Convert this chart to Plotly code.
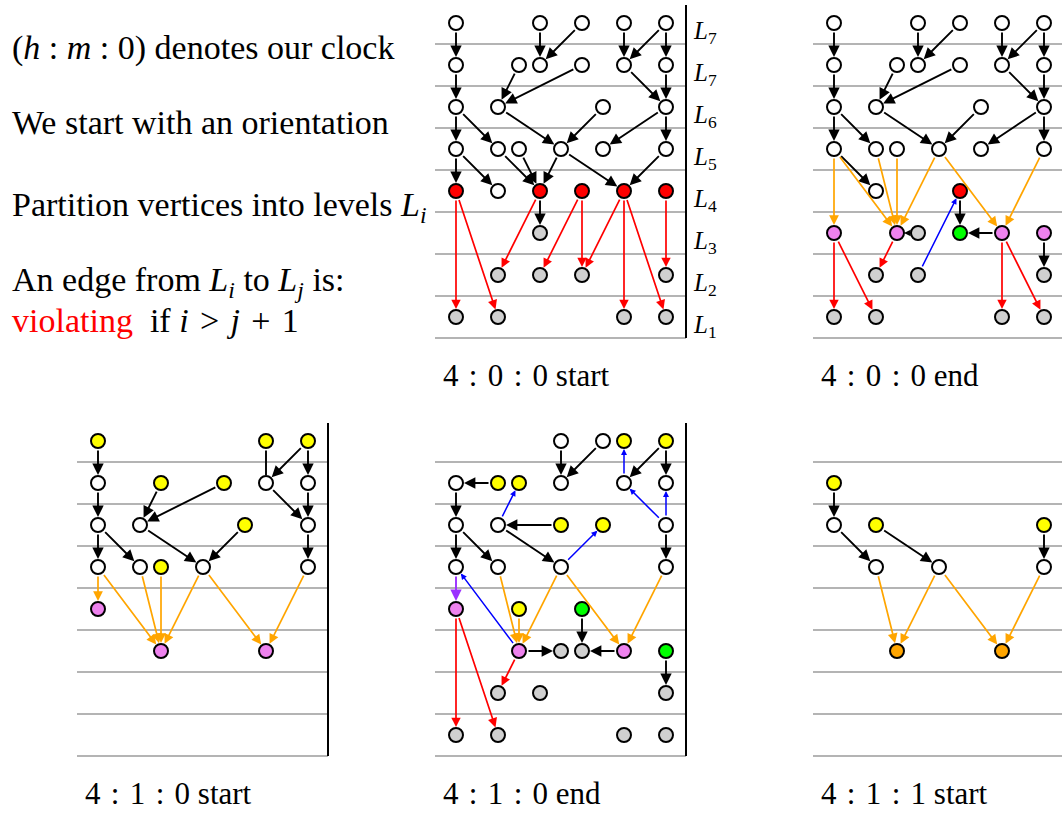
import plotly.graph_objects as go

# ---------------- data ----------------
# nodes: (column in half-steps, row from top, fill code)
# edges: (col_from, row_from, col_to, row_to, colour code)  arrowhead at "to"
LEVEL_LABELS = ["L7", "L7", "L6", "L5", "L4", "L3", "L2", "L1"]
CAPTIONS = ["4 : 0 : 0 start", "4 : 0 : 0 end", "4 : 1 : 0 start", "4 : 1 : 0 end", "4 : 1 : 1 start"]

p1_nodes = [
    (0, 0, "w"), (4, 0, "w"), (6, 0, "w"), (8, 0, "w"), (10, 0, "w"),
    (0, 1, "w"), (3, 1, "w"), (4, 1, "w"), (6, 1, "w"), (8, 1, "w"), (10, 1, "w"),
    (0, 2, "w"), (2, 2, "w"), (7, 2, "w"), (10, 2, "w"),
    (0, 3, "w"), (2, 3, "w"), (3, 3, "w"), (5, 3, "w"), (7, 3, "w"), (10, 3, "w"),
    (0, 4, "r"), (2, 4, "w"), (4, 4, "r"), (6, 4, "r"), (8, 4, "r"), (10, 4, "r"),
    (4, 5, "g"),
    (2, 6, "g"), (4, 6, "g"), (6, 6, "g"), (10, 6, "g"),
    (0, 7, "g"), (2, 7, "g"), (8, 7, "g"), (10, 7, "g"),
]
p1_edges = [
    (0, 0, 0, 1, "k"), (4, 0, 4, 1, "k"), (6, 0, 4, 1, "k"), (8, 0, 8, 1, "k"),
    (10, 0, 8, 1, "k"), (10, 0, 10, 1, "k"),
    (0, 1, 0, 2, "k"), (3, 1, 2, 2, "k"), (6, 1, 2, 2, "k"), (8, 1, 10, 2, "k"), (10, 1, 10, 2, "k"),
    (0, 2, 0, 3, "k"), (0, 2, 2, 3, "k"), (2, 2, 5, 3, "k"), (7, 2, 5, 3, "k"),
    (10, 2, 7, 3, "k"), (10, 2, 10, 3, "k"),
    (0, 3, 0, 4, "k"), (0, 3, 2, 4, "k"), (2, 3, 4, 4, "k"), (3, 3, 4, 4, "k"),
    (5, 3, 4, 4, "k"), (5, 3, 8, 4, "k"), (10, 3, 8, 4, "k"), (4, 4, 4, 5, "k"),
    (0, 4, 0, 7, "r"), (0, 4, 2, 7, "r"), (4, 4, 2, 6, "r"), (6, 4, 4, 6, "r"),
    (6, 4, 6, 6, "r"), (8, 4, 6, 6, "r"), (8, 4, 8, 7, "r"), (8, 4, 10, 7, "r"),
    (10, 4, 10, 6, "r"),
]

p2_nodes = [
    (0, 0, "w"), (4, 0, "w"), (6, 0, "w"), (8, 0, "w"), (10, 0, "w"),
    (0, 1, "w"), (3, 1, "w"), (4, 1, "w"), (6, 1, "w"), (8, 1, "w"), (10, 1, "w"),
    (0, 2, "w"), (2, 2, "w"), (7, 2, "w"), (10, 2, "w"),
    (0, 3, "w"), (2, 3, "w"), (3, 3, "w"), (5, 3, "w"), (7, 3, "w"), (10, 3, "w"),
    (2, 4, "w"), (6, 4, "r"),
    (0, 5, "p"), (3, 5, "p"), (4, 5, "g"), (6, 5, "G"), (8, 5, "p"), (10, 5, "p"),
    (2, 6, "g"), (4, 6, "g"), (10, 6, "g"),
    (0, 7, "g"), (2, 7, "g"), (8, 7, "g"), (10, 7, "g"),
]
p2_edges = [
    (0, 0, 0, 1, "k"), (4, 0, 4, 1, "k"), (6, 0, 4, 1, "k"), (8, 0, 8, 1, "k"),
    (10, 0, 8, 1, "k"), (10, 0, 10, 1, "k"),
    (0, 1, 0, 2, "k"), (3, 1, 2, 2, "k"), (6, 1, 2, 2, "k"), (8, 1, 10, 2, "k"), (10, 1, 10, 2, "k"),
    (0, 2, 0, 3, "k"), (0, 2, 2, 3, "k"), (2, 2, 5, 3, "k"), (7, 2, 5, 3, "k"),
    (10, 2, 7, 3, "k"), (10, 2, 10, 3, "k"),
    (0, 3, 2, 4, "k"),
    (0, 3, 0, 5, "o"), (0, 3, 3, 5, "o"), (2, 3, 3, 5, "o"), (3, 3, 3, 5, "o"),
    (5, 3, 3, 5, "o"), (5, 3, 8, 5, "o"), (10, 3, 8, 5, "o"),
    (4, 5, 3, 5, "s"), (6, 4, 6, 5, "k"), (8, 5, 6, 5, "k"), (10, 5, 10, 6, "k"),
    (4, 6, 6, 4, "b"),
    (0, 5, 0, 7, "r"), (0, 5, 2, 7, "r"), (3, 5, 2, 6, "r"), (8, 5, 8, 7, "r"), (8, 5, 10, 7, "r"),
]

p3_nodes = [
    (0, 0, "y"), (8, 0, "y"), (10, 0, "y"),
    (0, 1, "w"), (3, 1, "y"), (6, 1, "y"), (8, 1, "w"), (10, 1, "w"),
    (0, 2, "w"), (2, 2, "w"), (7, 2, "y"), (10, 2, "w"),
    (0, 3, "w"), (2, 3, "w"), (3, 3, "y"), (5, 3, "w"), (10, 3, "w"),
    (0, 4, "p"),
    (3, 5, "p"), (8, 5, "p"),
]
p3_edges = [
    (0, 0, 0, 1, "k"), (8, 0, 8, 1, "n"), (10, 0, 8, 1, "k"), (10, 0, 10, 1, "k"),
    (0, 1, 0, 2, "k"), (3, 1, 2, 2, "k"), (6, 1, 2, 2, "k"), (8, 1, 10, 2, "k"), (10, 1, 10, 2, "k"),
    (0, 2, 0, 3, "k"), (0, 2, 2, 3, "k"), (2, 2, 5, 3, "k"), (7, 2, 5, 3, "k"), (10, 2, 10, 3, "k"),
    (0, 3, 0, 4, "o"), (0, 3, 3, 5, "o"), (2, 3, 3, 5, "o"), (3, 3, 3, 5, "o"),
    (5, 3, 3, 5, "o"), (5, 3, 8, 5, "o"), (10, 3, 8, 5, "o"),
]

p4_nodes = [
    (5, 0, "w"), (7, 0, "w"), (8, 0, "y"), (10, 0, "y"),
    (0, 1, "w"), (2, 1, "y"), (3, 1, "y"), (5, 1, "w"), (8, 1, "w"), (10, 1, "w"),
    (0, 2, "w"), (2, 2, "w"), (5, 2, "y"), (7, 2, "y"), (10, 2, "w"),
    (0, 3, "w"), (2, 3, "w"), (5, 3, "w"), (10, 3, "w"),
    (0, 4, "p"), (3, 4, "y"), (6, 4, "G"),
    (3, 5, "p"), (5, 5, "g"), (6, 5, "g"), (8, 5, "p"), (10, 5, "G"),
    (2, 6, "g"), (4, 6, "g"), (10, 6, "g"),
    (0, 7, "g"), (2, 7, "g"), (8, 7, "g"), (10, 7, "g"),
]
p4_edges = [
    (5, 0, 5, 1, "k"), (7, 0, 5, 1, "k"), (10, 0, 8, 1, "k"), (10, 0, 10, 1, "k"),
    (2, 1, 0, 1, "k"), (0, 1, 0, 2, "k"), (5, 2, 2, 2, "k"),
    (0, 2, 0, 3, "k"), (0, 2, 2, 3, "k"), (2, 2, 5, 3, "k"), (10, 2, 10, 3, "k"),
    (8, 1, 8, 0, "b"), (10, 2, 8, 1, "b"), (10, 2, 10, 1, "b"), (2, 2, 3, 1, "b"),
    (5, 3, 7, 2, "b"), (3, 5, 0, 3, "b"),
    (0, 3, 0, 4, "v"),
    (2, 3, 3, 5, "o"), (3, 4, 3, 5, "o"), (5, 3, 3, 5, "o"), (5, 3, 8, 5, "o"), (10, 3, 8, 5, "o"),
    (3, 5, 5, 5, "k"), (6, 4, 6, 5, "k"), (8, 5, 6, 5, "k"), (10, 5, 10, 6, "k"),
    (0, 4, 0, 7, "r"), (0, 4, 2, 7, "r"), (3, 5, 2, 6, "r"),
]

p5_nodes = [
    (0, 1, "y"),
    (0, 2, "w"), (2, 2, "y"), (10, 2, "y"),
    (2, 3, "w"), (5, 3, "w"), (10, 3, "w"),
    (3, 5, "o"), (8, 5, "o"),
]
p5_edges = [
    (0, 1, 0, 2, "k"), (0, 2, 2, 3, "k"), (2, 2, 5, 3, "k"), (10, 2, 10, 3, "k"),
    (2, 3, 3, 5, "o"), (5, 3, 3, 5, "o"), (5, 3, 8, 5, "o"), (10, 3, 8, 5, "o"),
]

# ---------------- layout / style ----------------
W, H = 1062, 816
DX, DY = 21, 42
PANEL_ORIGINS = [(456, 23), (834, 23), (98, 441), (456, 441), (834, 441)]
PANEL_VLINE = [True, False, True, True, False]
PANELS = [(p1_nodes, p1_edges), (p2_nodes, p2_edges), (p3_nodes, p3_edges),
          (p4_nodes, p4_edges), (p5_nodes, p5_edges)]

FILL = {"w": "white", "r": "#ff0000", "g": "#d0d0d0", "p": "#ee82ee",
        "y": "#ffff00", "G": "#00ff00", "o": "#ffa500"}
EDGE = {
    "k": dict(color="black", width=1.9, size=1.2, head=2, so=8),
    "s": dict(color="black", width=1.9, size=0.7, head=2, so=7),
    "n": dict(color="black", width=1.9, size=1.2, head=0, so=8),
    "r": dict(color="#ff0000", width=1.7, size=1.1, head=2, so=8),
    "o": dict(color="#ffa500", width=1.7, size=1.15, head=2, so=8),
    "b": dict(color="#0000ff", width=1.5, size=0.8, head=2, so=8),
    "v": dict(color="#9b30ff", width=1.9, size=1.2, head=2, so=8),
}
SERIF = "Liberation Serif"
S3 = "\u2004"  # three-per-em space
S2 = "\u2002"  # en space

fig = go.Figure()
shapes = []
annotations = []


def P(origin, c, r):
    return origin[0] + DX * c, origin[1] + DY * r


for k, ((nodes, edges), origin) in enumerate(zip(PANELS, PANEL_ORIGINS)):
    x0 = origin[0] - DX
    x1 = origin[0] + 10 * DX + 20 if PANEL_VLINE[k] else W + 5
    for i in range(len(LEVEL_LABELS)):
        yl = origin[1] + DY * (i + 0.5)
        shapes.append(dict(type="line", xref="x", yref="y", x0=x0, x1=x1, y0=yl, y1=yl,
                           line=dict(color="#b4b4b4", width=2), layer="below"))
    if PANEL_VLINE[k]:
        xv = origin[0] + 10 * DX + 20
        shapes.append(dict(type="line", xref="x", yref="y", x0=xv, x1=xv,
                           y0=origin[1] - 18, y1=origin[1] + DY * 7.5,
                           line=dict(color="black", width=2), layer="below"))
    # edges
    for (c1, r1, c2, r2, code) in edges:
        st = EDGE[code]
        xa, ya = P(origin, c1, r1)
        xb, yb = P(origin, c2, r2)
        annotations.append(dict(
            x=xb, y=yb, ax=xa, ay=ya, xref="x", yref="y", axref="x", ayref="y",
            text="", showarrow=True, arrowhead=st["head"], arrowsize=st["size"],
            arrowwidth=st["width"], arrowcolor=st["color"], standoff=st["so"], startstandoff=8))
    # nodes
    xs = [P(origin, c, r)[0] for (c, r, f) in nodes]
    ys = [P(origin, c, r)[1] for (c, r, f) in nodes]
    cols = [FILL[f] for (c, r, f) in nodes]
    fig.add_trace(go.Scatter(x=xs, y=ys, mode="markers", hoverinfo="skip",
                             marker=dict(size=14, color=cols,
                                         line=dict(color="black", width=2))))
    # caption
    cx = origin[0] - 15
    cy = origin[1] + DY * 7.5 + 37
    annotations.append(dict(x=cx, y=cy, xref="x", yref="y",
                            text=CAPTIONS[k].replace(" : ", S3 + ":" + S3), showarrow=False,
                            xanchor="left", yanchor="middle",
                            font=dict(family=SERIF, size=31, color="black")))

# level labels on the first panel
o = PANEL_ORIGINS[0]
for i, lab in enumerate(LEVEL_LABELS):
    annotations.append(dict(x=o[0] + 10 * DX + 25, y=o[1] + DY * i + 9, xref="x", yref="y",
                            text="<i>L</i><sub>%s</sub>" % lab[1:], showarrow=False,
                            xanchor="left", yanchor="middle",
                            font=dict(family=SERIF, size=25, color="black")))

LEFT_TEXT = [
    ("(<i>h</i> : <i>m</i> : 0) denotes our clock", 48),
    ("We start with an orientation", 122),
    ("Partition vertices into levels <i>L<sub>i</sub></i>", 207),
    ("An edge from <i>L<sub>i</sub></i> to <i>L<sub>j</sub></i> is:", 282),
    ("<span style='color:#ff0000'>violating</span>" + S2 + "if <i>i</i>" + S3 + "&gt;" + S3
     + "<i>j</i>" + S3 + "+" + S3 + "1", 320),
]
for txt, yy in LEFT_TEXT:
    annotations.append(dict(x=10, y=yy, xref="x", yref="y", text=txt, showarrow=False,
                            xanchor="left", yanchor="middle",
                            font=dict(family=SERIF, size=34, color="black")))

fig.update_layout(
    width=W, height=H, margin=dict(l=0, r=0, t=0, b=0),
    paper_bgcolor="white", plot_bgcolor="white", showlegend=False,
    xaxis=dict(range=[0, W], visible=False, fixedrange=True),
    yaxis=dict(range=[H, 0], visible=False, fixedrange=True),
    shapes=shapes, annotations=annotations,
)
fig.write_html("out.html", config={"displayModeBar": False},
               post_script="document.body.style.margin='0px';")
